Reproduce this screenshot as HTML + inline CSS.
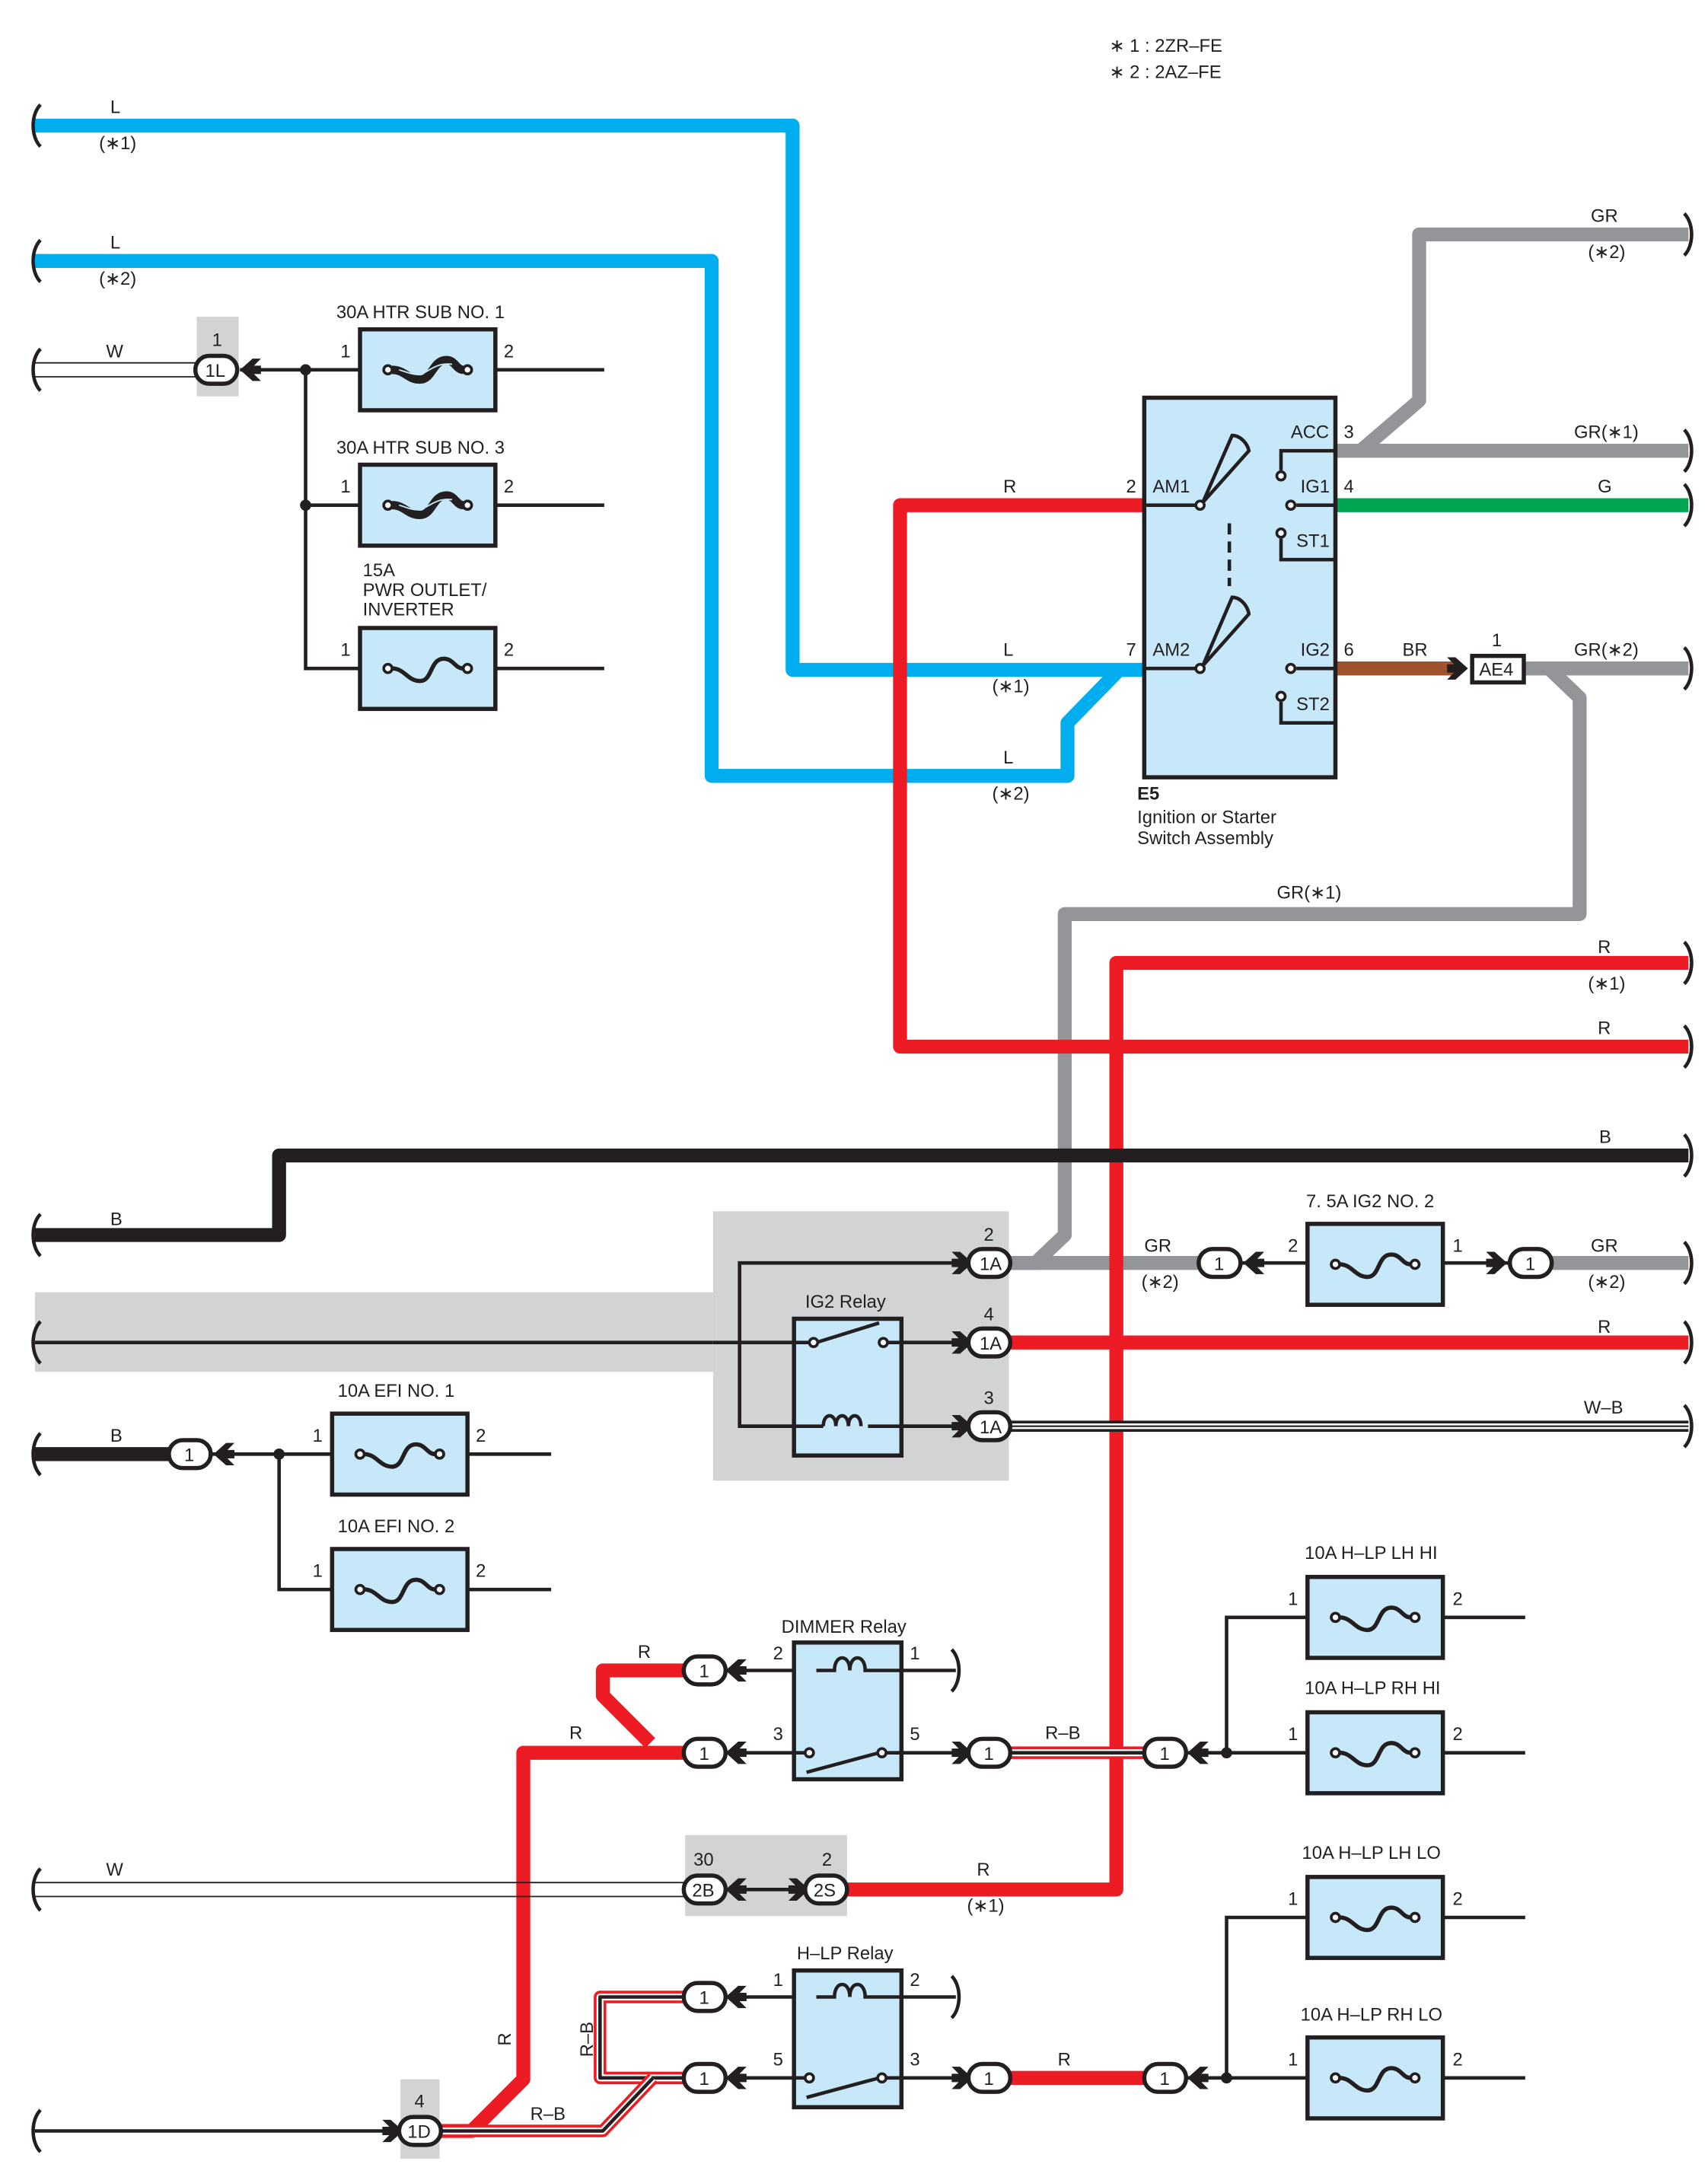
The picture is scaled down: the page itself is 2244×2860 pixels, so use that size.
<!DOCTYPE html>
<html><head><meta charset="utf-8"><style>
html,body{margin:0;padding:0;background:#fff}
svg{display:block}
text{font-family:"Liberation Sans",sans-serif;font-size:13px;fill:#231f20}
</style></head><body>
<svg width="2244" height="2860" viewBox="0 0 1224 1560" xmlns="http://www.w3.org/2000/svg">
<defs>
<g id="fuse">
<rect x="0" y="0" width="97" height="58" fill="#c7e8f8" stroke="#231f20" stroke-width="3"/>
<circle cx="20" cy="29" r="3" fill="#fff" stroke="#231f20" stroke-width="2"/>
<circle cx="77" cy="29" r="3" fill="#fff" stroke="#231f20" stroke-width="2"/>
<path d="M23,29 C32,29 34,38 43,38 C52,38 50,22 60,22 C67,22 68,29 74,29" fill="none" stroke="#231f20" stroke-width="3"/>
</g>
<g id="fuse2">
<rect x="0" y="0" width="97" height="58" fill="#c7e8f8" stroke="#231f20" stroke-width="3"/>
<circle cx="20" cy="29" r="3" fill="#fff" stroke="#231f20" stroke-width="2"/>
<circle cx="77" cy="29" r="3" fill="#fff" stroke="#231f20" stroke-width="2"/>
<path d="M23,29 C32,29 34,36 43,36 C52,36 52,22 62,22 C68,22 69,29 74,29" fill="none" stroke="#231f20" stroke-width="6"/>
<path d="M28,29 C35,31 40,34 46,31 C52,28 56,24 66,25" fill="none" stroke="#c7e8f8" stroke-width="1"/>
</g>
<g id="brk"><path d="M4,-15 C-3,-8 -3,8 4,15" fill="none" stroke="#231f20" stroke-width="2.5"/></g>
<g id="brkR"><path d="M-3,-15 C4,-8 4,8 -3,15" fill="none" stroke="#231f20" stroke-width="2.5"/></g>
<g id="con"><rect x="-15" y="-10" width="30" height="20" rx="10" fill="#fff" stroke="#231f20" stroke-width="3"/></g>
<g id="chL"><path d="M0,0 L9,-8 L15,-8 L10,-3 L15,-3 L15,3 L10,3 L15,8 L9,8 Z" fill="#231f20"/></g>
<g id="chR"><path d="M0,0 L-9,-8 L-15,-8 L-10,-3 L-15,-3 L-15,3 L-10,3 L-15,8 L-9,8 Z" fill="#231f20"/></g>
<g id="relay">
<rect x="0" y="0" width="77" height="98" fill="#c7e8f8" stroke="#231f20" stroke-width="3"/>
</g>
</defs>

<!-- notes -->
<text x="795" y="37">∗ 1 : 2ZR–FE</text>
<text x="795" y="56">∗ 2 : 2AZ–FE</text>

<!-- gray backgrounds -->
<rect x="141" y="227" width="30" height="57" fill="#d1d3d4"/>
<rect x="25" y="926" width="486" height="57" fill="#d1d3d4"/>
<rect x="511" y="868" width="212" height="193" fill="#d1d3d4"/>
<rect x="491" y="1315" width="116" height="58" fill="#d1d3d4"/>
<rect x="287" y="1490" width="28" height="57" fill="#d1d3d4"/>

<!-- blue wires -->
<g fill="none" stroke="#00aeef" stroke-width="10" stroke-linejoin="round">
<path d="M25,90 H568 V480 H820"/>
<path d="M25,187 H510 V556 H765 V518 L802,480"/>
</g>
<text x="79" y="81">L</text><text x="71" y="107">(∗1)</text>
<text x="79" y="178">L</text><text x="71" y="204">(∗2)</text>
<text x="719" y="470">L</text><text x="711" y="496">(∗1)</text>
<text x="719" y="547">L</text><text x="711" y="573">(∗2)</text>

<!-- gray wires -->
<g fill="none" stroke="#939598" stroke-width="10" stroke-linejoin="round">
<path d="M957,323 H1210"/>
<path d="M975,323 L1017,287 V168 H1210"/>
<path d="M1092,479 H1210"/>
<path d="M1110,479 L1132,500 V655 H763 V885 L742,905 H723"/>
<path d="M723,905 H860"/>
<path d="M1110,905 H1210"/>
</g>
<text x="1140" y="159">GR</text><text x="1138" y="185">(∗2)</text>
<text x="1128" y="314">GR(∗1)</text>
<text x="1128" y="470">GR(∗2)</text>
<text x="915" y="644">GR(∗1)</text>
<text x="820" y="897">GR</text><text x="818" y="923">(∗2)</text>
<text x="1140" y="897">GR</text><text x="1138" y="923">(∗2)</text>

<!-- green / brown -->
<path d="M957,362 H1210" stroke="#00a651" stroke-width="10"/>
<text x="1145" y="353">G</text>
<path d="M957,479 H1045" stroke="#a0522d" stroke-width="10"/>
<text x="1005" y="470">BR</text>

<!-- red wires -->
<g fill="none" stroke="#ed1c24" stroke-width="10" stroke-linejoin="round">
<path d="M820,362 H645 V750 H1210"/>
<path d="M1210,690 H800 V1354 H607"/>
<path d="M723,962 H1210"/>
<path d="M490,1197 H432 V1215 L466,1249"/>
<path d="M490,1256 H375 V1490 L338,1527 H316"/>
<path d="M723,1489 H820"/>
</g>
<text x="719" y="353">R</text>
<text x="1145" y="683">R</text><text x="1138" y="709">(∗1)</text>
<text x="1145" y="741">R</text>
<text x="1145" y="955">R</text>
<text x="457" y="1188">R</text>
<text x="408" y="1246">R</text>
<text x="700" y="1344">R</text><text x="693" y="1370">(∗1)</text>
<text x="758" y="1480">R</text>
<text transform="translate(366,1466) rotate(-90)">R</text>

<!-- R-B striped wires -->
<g fill="none" stroke-linejoin="round">
<path d="M723,1256 H820" stroke="#ed1c24" stroke-width="9"/>
<path d="M723,1256 H820" stroke="#fff" stroke-width="5"/>
<path d="M723,1256 H820" stroke="#231f20" stroke-width="2.5"/>
<path d="M490,1431 H430 V1489 H490" stroke="#ed1c24" stroke-width="9"/>
<path d="M490,1431 H430 V1489 H490" stroke="#fff" stroke-width="5"/>
<path d="M490,1431 H430 V1489 H490" stroke="#231f20" stroke-width="2.5"/>
<path d="M468,1489 L432,1527 H316" stroke="#ed1c24" stroke-width="9"/>
<path d="M468,1489 L432,1527 H316" stroke="#fff" stroke-width="5"/>
<path d="M468,1489 L432,1527 H316" stroke="#231f20" stroke-width="2.5"/>
</g>
<text x="749" y="1246">R–B</text>
<text x="380" y="1519">R–B</text>
<text transform="translate(425,1474) rotate(-90)">R–B</text>

<!-- black B wires -->
<g fill="none" stroke="#231f20" stroke-width="10" stroke-linejoin="round">
<path d="M25,885 H200 V828 H1210"/>
<path d="M25,1042 H122"/>
</g>
<text x="79" y="878">B</text><text x="1146" y="819">B</text>
<text x="79" y="1033">B</text>

<!-- W / W-B double lines -->
<g fill="none" stroke="#231f20" stroke-width="1">
<path d="M25,260 H141 M25,270 H141"/>
<path d="M25,1349 H491 M25,1359 H491"/>
</g>
<text x="76" y="256">W</text>
<text x="76" y="1344">W</text>
<path d="M723,1022 H1210" stroke="#231f20" stroke-width="8"/>
<path d="M723,1022 H1210" stroke="#fff" stroke-width="4"/>
<path d="M723,1022 H1210" stroke="#231f20" stroke-width="1.2"/>
<text x="1135" y="1013">W–B</text>

<!-- thin black wiring -->
<g fill="none" stroke="#231f20" stroke-width="2.5">
<path d="M172,265 H433 M219,265 V479 H433 M219,362 H433"/>
<path d="M25,962 H511"/>
<path d="M694,905 H530 V1022 H694 M511,962 H694"/>
<path d="M150,1042 H395 M200,1042 V1139 H395"/>
<path d="M25,1527 H287"/>
<path d="M519,1197 H685 M519,1256 H694"/>
<path d="M519,1431 H685 M519,1489 H694"/>
<path d="M520,1354 H577"/>
<path d="M889,905 H1083"/>
<path d="M850,1256 H1093 M879,1256 V1159 H1093"/>
<path d="M850,1489 H1093 M879,1489 V1374 H1093"/>
</g>
<g fill="#231f20">
<circle cx="219" cy="265" r="4"/><circle cx="219" cy="362" r="4"/>
<circle cx="200" cy="1042" r="4"/><circle cx="879" cy="1256" r="4"/><circle cx="879" cy="1489" r="4"/>
</g>

<!-- break symbols -->
<use href="#brk" x="25" y="90"/><use href="#brk" x="25" y="187"/><use href="#brk" x="25" y="265"/>
<use href="#brk" x="25" y="885"/><use href="#brk" x="25" y="962"/><use href="#brk" x="25" y="1042"/>
<use href="#brk" x="25" y="1354"/><use href="#brk" x="25" y="1527"/>
<use href="#brkR" x="1210" y="168"/><use href="#brkR" x="1210" y="323"/><use href="#brkR" x="1210" y="362"/>
<use href="#brkR" x="1210" y="479"/><use href="#brkR" x="1210" y="690"/><use href="#brkR" x="1210" y="750"/>
<use href="#brkR" x="1210" y="828"/><use href="#brkR" x="1210" y="905"/><use href="#brkR" x="1210" y="962"/>
<use href="#brkR" x="1210" y="1022"/>
<use href="#brkR" x="685" y="1197"/><use href="#brkR" x="685" y="1431"/>

<!-- fuses -->
<use href="#fuse2" x="258" y="236"/>
<use href="#fuse2" x="258" y="333"/>
<use href="#fuse" x="258" y="450"/>
<text x="241" y="228">30A HTR SUB NO. 1</text>
<text x="241" y="325">30A HTR SUB NO. 3</text>
<text x="260" y="413">15A</text><text x="260" y="427">PWR OUTLET/</text><text x="260" y="441">INVERTER</text>
<text x="244" y="256">1</text><text x="361" y="256">2</text>
<text x="244" y="353">1</text><text x="361" y="353">2</text>
<text x="244" y="470">1</text><text x="361" y="470">2</text>

<use href="#fuse" x="238" y="1013"/><use href="#fuse" x="238" y="1110"/>
<text x="242" y="1001">10A EFI NO. 1</text><text x="242" y="1098">10A EFI NO. 2</text>
<text x="224" y="1033">1</text><text x="341" y="1033">2</text>
<text x="224" y="1130">1</text><text x="341" y="1130">2</text>

<use href="#fuse" x="937" y="877"/>
<text x="936" y="865">7. 5A IG2 NO. 2</text>
<text x="923" y="897">2</text><text x="1041" y="897">1</text>

<use href="#fuse" x="937" y="1130"/><use href="#fuse" x="937" y="1227"/>
<use href="#fuse" x="937" y="1345"/><use href="#fuse" x="937" y="1460"/>
<text x="935" y="1117">10A H–LP LH HI</text><text x="935" y="1214">10A H–LP RH HI</text>
<text x="933" y="1332">10A H–LP LH LO</text><text x="932" y="1448">10A H–LP RH LO</text>
<text x="923" y="1150">1</text><text x="1041" y="1150">2</text>
<text x="923" y="1247">1</text><text x="1041" y="1247">2</text>
<text x="923" y="1365">1</text><text x="1041" y="1365">2</text>
<text x="923" y="1480">1</text><text x="1041" y="1480">2</text>

<!-- ignition switch -->
<rect x="820" y="285" width="137" height="272" fill="#c7e8f8" stroke="#231f20" stroke-width="3"/>
<g fill="none" stroke="#231f20" stroke-width="2.5">
<path d="M820,362 H857 M820,479 H857"/>
<path d="M862,360 L883,312 C889,312 894,318 895,323 Z"/>
<path d="M862,477 L883,428 C889,428 894,434 895,440 Z"/>
<path d="M881,375 V420" stroke-dasharray="8,5"/>
<path d="M957,323 H918 V337 M957,362 H929 M957,401 H918 V386 M957,479 H929 M957,518 H918 V503"/>
</g>
<g fill="#fff" stroke="#231f20" stroke-width="2">
<circle cx="860" cy="362" r="3"/><circle cx="860" cy="479" r="3"/>
<circle cx="918" cy="341" r="3"/><circle cx="925" cy="362" r="3"/><circle cx="918" cy="382" r="3"/>
<circle cx="925" cy="479" r="3"/><circle cx="918" cy="499" r="3"/>
</g>
<text x="807" y="353">2</text><text x="826" y="353">AM1</text>
<text x="807" y="470">7</text><text x="826" y="470">AM2</text>
<text x="925" y="314">ACC</text><text x="963" y="314">3</text>
<text x="932" y="353">IG1</text><text x="963" y="353">4</text>
<text x="929" y="392">ST1</text>
<text x="932" y="470">IG2</text><text x="963" y="470">6</text>
<text x="929" y="509">ST2</text>
<text x="815" y="573" style="font-weight:bold">E5</text>
<text x="815" y="590">Ignition or Starter</text>
<text x="815" y="605">Switch Assembly</text>

<!-- AE4 -->
<use href="#chR" x="1052" y="479"/>
<rect x="1055" y="470" width="37" height="19" fill="#fff" stroke="#231f20" stroke-width="3"/>
<text x="1060" y="484">AE4</text><text x="1069" y="463">1</text>

<!-- IG2 relay -->
<use href="#relay" x="569" y="945"/>
<text x="577" y="937">IG2 Relay</text>
<g fill="none" stroke="#231f20" stroke-width="2.5">
<path d="M530,962 H569 M646,962 H694 M530,1022 H590 M622,1022 H694"/>
<path d="M585,962 L630,948 M569,962 H582 M633,962 H646"/>
<path d="M590,1022 c0,-10 9,-10 9,0 c0,-10 9,-10 9,0 c0,-10 9,-10 9,0"/>
</g>
<g fill="#fff" stroke="#231f20" stroke-width="2"><circle cx="583" cy="962" r="3"/><circle cx="633" cy="962" r="3"/></g>

<!-- IG2 connectors -->
<use href="#chR" x="697" y="905"/><use href="#con" x="709" y="905"/><text x="702" y="910">1A</text><text x="705" y="889">2</text>
<use href="#chR" x="697" y="962"/><use href="#con" x="709" y="962"/><text x="702" y="967">1A</text><text x="705" y="946">4</text>
<use href="#chR" x="697" y="1022"/><use href="#con" x="709" y="1022"/><text x="702" y="1027">1A</text><text x="705" y="1006">3</text>

<!-- 1L connector -->
<use href="#con" x="155" y="265"/><use href="#chL" x="172" y="265"/>
<text x="147" y="270">1L</text><text x="152" y="248">1</text>

<!-- B connector -->
<use href="#con" x="136" y="1042"/><use href="#chL" x="153" y="1042"/><text x="132" y="1047">1</text>

<!-- IG2 fuse connectors -->
<use href="#con" x="874" y="905"/><use href="#chL" x="891" y="905"/><text x="870" y="910">1</text>
<use href="#chR" x="1080" y="905"/><use href="#con" x="1097" y="905"/><text x="1093" y="910">1</text>

<!-- DIMMER relay -->
<use href="#relay" x="569" y="1177"/>
<text x="560" y="1170">DIMMER Relay</text>
<text x="554" y="1189">2</text><text x="652" y="1189">1</text>
<text x="554" y="1247">3</text><text x="652" y="1247">5</text>
<g fill="none" stroke="#231f20" stroke-width="2.5">
<path d="M578,1256 H569 M646,1256 H630"/>
<path d="M585,1197 H598 c0,-12 11,-12 11,0 c0,-12 11,-12 11,0 H646"/>
<path d="M578,1270 L630,1256"/>
</g>
<g fill="#fff" stroke="#231f20" stroke-width="2"><circle cx="580" cy="1256" r="3"/><circle cx="632" cy="1256" r="3"/></g>
<use href="#con" x="505" y="1197"/><use href="#chL" x="520" y="1197"/><text x="501" y="1202">1</text>
<use href="#con" x="505" y="1256"/><use href="#chL" x="520" y="1256"/><text x="501" y="1261">1</text>
<use href="#chR" x="697" y="1256"/><use href="#con" x="709" y="1256"/><text x="705" y="1261">1</text>
<use href="#con" x="835" y="1256"/><use href="#chL" x="851" y="1256"/><text x="831" y="1261">1</text>

<!-- 2B / 2S -->
<use href="#con" x="505" y="1354"/><use href="#chL" x="520" y="1354"/><text x="496" y="1359">2B</text><text x="497" y="1337">30</text>
<use href="#chR" x="580" y="1354"/><use href="#con" x="592" y="1354"/><text x="583" y="1359">2S</text><text x="589" y="1337">2</text>

<!-- H-LP relay -->
<use href="#relay" x="569" y="1412"/>
<text x="571" y="1404">H–LP Relay</text>
<text x="554" y="1423">1</text><text x="652" y="1423">2</text>
<text x="554" y="1480">5</text><text x="652" y="1480">3</text>
<g fill="none" stroke="#231f20" stroke-width="2.5">
<path d="M578,1489 H569 M646,1489 H630"/>
<path d="M585,1431 H598 c0,-12 11,-12 11,0 c0,-12 11,-12 11,0 H646"/>
<path d="M578,1503 L630,1489"/>
</g>
<g fill="#fff" stroke="#231f20" stroke-width="2"><circle cx="580" cy="1489" r="3"/><circle cx="632" cy="1489" r="3"/></g>
<use href="#con" x="505" y="1431"/><use href="#chL" x="520" y="1431"/><text x="501" y="1436">1</text>
<use href="#con" x="505" y="1489"/><use href="#chL" x="520" y="1489"/><text x="501" y="1494">1</text>
<use href="#chR" x="697" y="1489"/><use href="#con" x="709" y="1489"/><text x="705" y="1494">1</text>
<use href="#con" x="835" y="1489"/><use href="#chL" x="851" y="1489"/><text x="831" y="1494">1</text>

<!-- 1D -->
<use href="#chR" x="289" y="1527"/><use href="#con" x="301" y="1527"/><text x="292" y="1532">1D</text><text x="297" y="1510">4</text>
</svg>
</body></html>
